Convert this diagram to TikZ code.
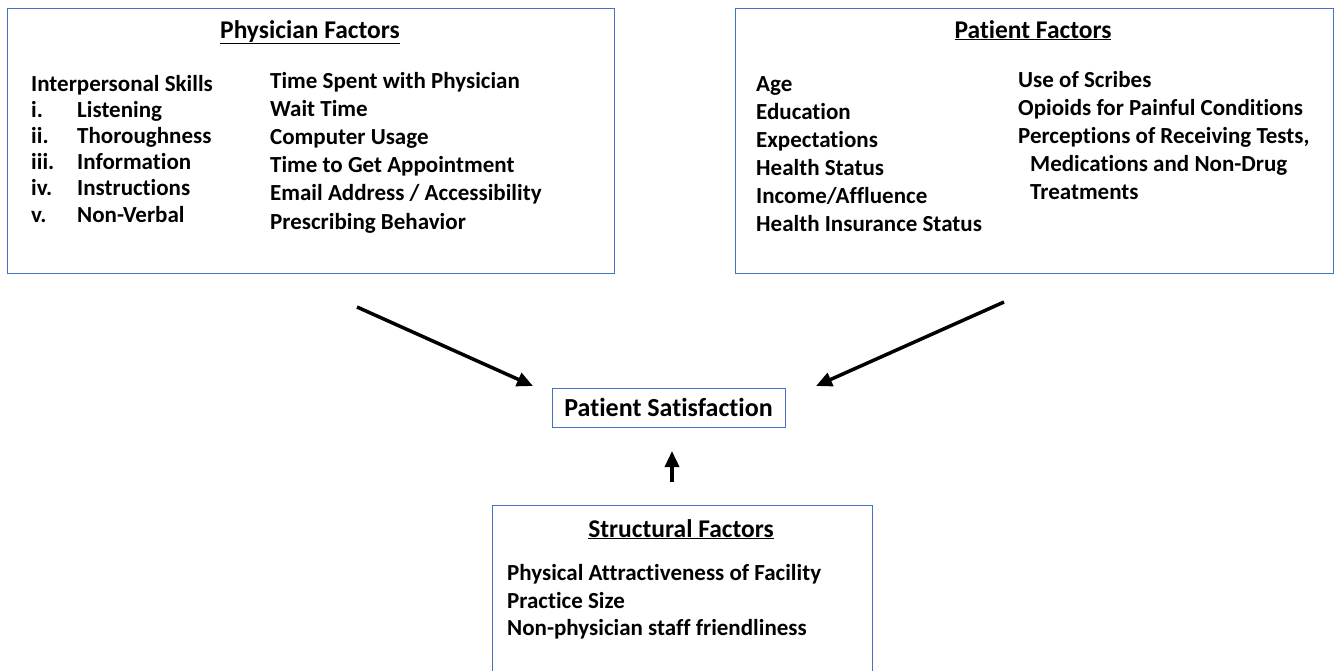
\documentclass[tikz,border=0pt]{standalone}
\usepackage{fontspec}
\setmainfont{Carlito}[Ligatures={CommonOff,ContextualOff}]
\usetikzlibrary{calc,positioning,arrows.meta}
\definecolor{boxblue}{RGB}{68,114,196}
\tikzset{
  factorbox/.style={draw=boxblue,line width=1pt,inner sep=0pt},
  item/.style={anchor=base west,inner sep=0pt,font=\bfseries\fontsize{23}{26}\selectfont},
  heading/.style={anchor=base,inner sep=0pt,font=\bfseries\fontsize{25.5}{30}\selectfont},
  influence/.style={line width=3.5pt,-{Triangle[length=16pt,width=14pt]}}
}
\begin{document}
\begin{tikzpicture}[x=1pt,y=-1pt]
  \useasboundingbox (0,0) rectangle (1338,670);
  % boxes
  \node [factorbox,minimum width=607,minimum height=265] at (310.5,140.5) (physician) {};
  \node [factorbox,minimum width=598,minimum height=265] at (1034,140.5) (patient) {};
  \node [factorbox,minimum width=233,minimum height=39] at (668.5,407.5) (satisfaction) {};
  \draw [boxblue,line width=1pt]
    (492,690) -- (492,505) -- (872,505) -- (872,690);
  \coordinate (structural) at (682,505);
  % headings
  \node [heading] at (310,38) (phystitle) {\underline{Physician Factors}};
  \node [heading] at (1033,38) (pattitle) {\underline{Patient Factors}};
  \node [heading] at (681,537) (structitle) {\underline{Structural Factors}};
  \node [heading,font=\bfseries\fontsize{26}{30}\selectfont]
    at (668.5,416.5) {Patient Satisfaction};
  % physician factors
  \node [item] at (31,91) (skills) {Interpersonal Skills};
  \foreach \num/\txt [count=\i] in {i./Listening,ii./Thoroughness,iii./Information,
      iv./Instructions,v./Non-Verbal}
  {
    \node [item] at (31,91+26.2*\i) (num\i) {\num};
    \node [item] at (77,91+26.2*\i) (skill\i) {\txt};
  }
  \foreach \txt [count=\i from 0] in {Time Spent with Physician,Wait Time,Computer Usage,
      Time to Get Appointment,Email Address / Accessibility,Prescribing Behavior}
  {
    \node [item] at (270,88+28.2*\i) (phys\i) {\txt};
  }
  % patient factors
  \foreach \txt [count=\i from 0] in {Age,Education,Expectations,Health Status,
      Income/Affluence,Health Insurance Status}
  {
    \node [item] at (756,91+28*\i) (pat\i) {\txt};
  }
  \node [item] at (1018,87) (scribes) {Use of Scribes};
  \node [item] at (1018,115) (opioids) {Opioids for Painful Conditions};
  \node [item] at (1018,143) (tests) {Perceptions of Receiving Tests,};
  \node [item] at (1030,171) (meds) {Medications and Non-Drug};
  \node [item] at (1030,199) (treat) {Treatments};
  % structural factors
  \node [item] at (507,580) (facility) {Physical Attractiveness of Facility};
  \node [item] at (507,608) (size) {Practice Size};
  \node [item] at (507,635) (staff) {Non-physician staff friendliness};
  % arrows
  \coordinate (physout) at (357,307);
  \coordinate (patout) at (1004,302);
  \coordinate (structout) at (672,482);
  \draw [influence] (physout) -- (533,386);
  \draw [influence] (patout) -- (816,386);
  \draw [influence] (structout) -- (672,451);
\end{tikzpicture}
\end{document}
